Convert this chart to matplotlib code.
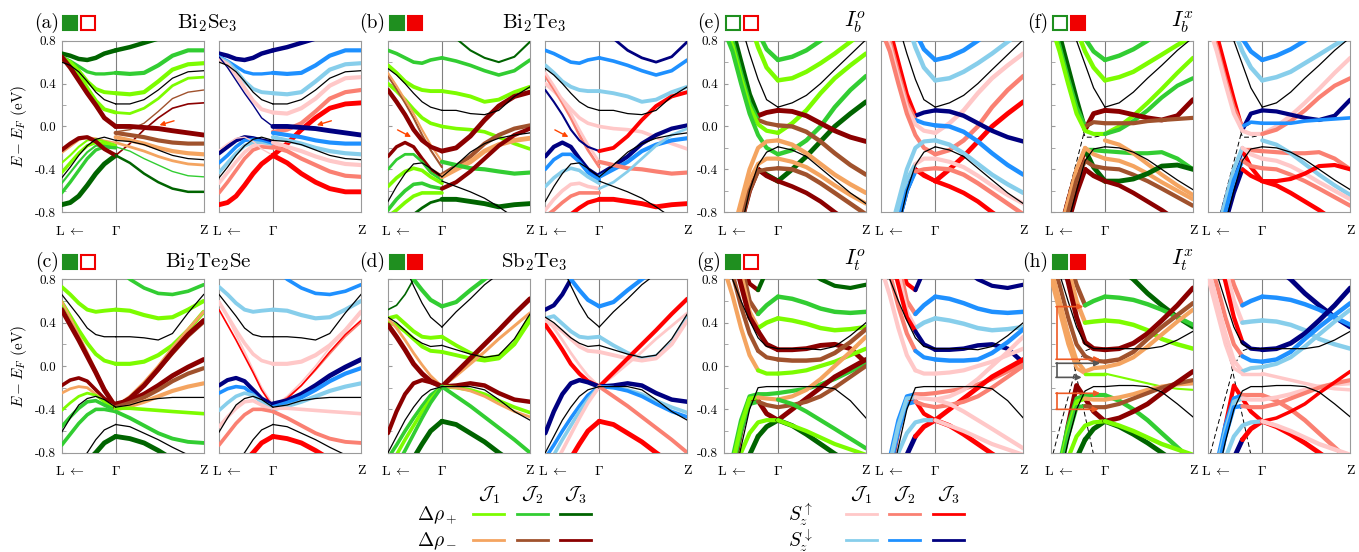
import matplotlib.pyplot as plt
from matplotlib.lines import Line2D
from matplotlib.patches import Rectangle
from matplotlib.transforms import ScaledTranslation

plt.rcParams['mathtext.fontset'] = 'cm'
plt.rcParams['font.family'] = 'serif'
plt.rcParams['font.serif'] = ['cmr10', 'DejaVu Serif']
plt.rcParams['axes.unicode_minus'] = False
plt.rcParams['axes.formatter.use_mathtext'] = True

# k-path: L <- Gamma -> Z
K_L = [0.0, 0.06, 0.12, 0.18, 0.24, 0.30, 0.38]
K_Z = [0.38, 0.48, 0.58, 0.68, 0.78, 0.89, 1.0]
GAMMA = 0.38
SPLIT = 4  # index on K_L where the far-L colour of a band may change

COLORS = {
    'p1': '#7CFC00', 'p2': '#32CD32', 'p3': '#006400',   # drho+ J1..J3
    'm1': '#F4A460', 'm2': '#A0522D', 'm3': '#8B0000',   # drho- J1..J3
    'u1': '#FFC8C8', 'u2': '#FA8072', 'u3': '#FF0000',   # Sz up
    'd1': '#87CEEB', 'd2': '#1E90FF', 'd3': '#000080',   # Sz down
}
BK = ('k', 0.9, 'k', 0.9)
DS = ('kd', 0.7, 'kd', 0.7)

# ---------------- (a) Bi2Se3 ----------------
a_L = [
    [0.68, 0.66, 0.63, 0.62, 0.64, 0.68, 0.71],
    [0.65, 0.61, 0.56, 0.51, 0.49, 0.49, 0.50],
    [0.64, 0.60, 0.52, 0.42, 0.35, 0.32, 0.31],
    [0.63, 0.58, 0.48, 0.36, 0.24, 0.16, 0.13],
    [0.65, 0.55, 0.43, 0.31, 0.20, 0.08, 0.00],
    [-0.25, -0.19, -0.13, -0.10, -0.11, -0.13, -0.15],
    [-0.34, -0.27, -0.19, -0.13, -0.12, -0.14, -0.17],
    [-0.43, -0.34, -0.25, -0.18, -0.15, -0.16, -0.19],
    [-0.53, -0.43, -0.33, -0.24, -0.18, -0.18, -0.20],
    [-0.62, -0.52, -0.41, -0.30, -0.22, -0.19, -0.20],
    [-0.73, -0.71, -0.65, -0.55, -0.44, -0.35, -0.27],
    [-0.22, -0.16, -0.11, -0.10, -0.14, -0.21, -0.27],
    [0.60, 0.57, 0.51, 0.42, 0.32, 0.25, 0.21],
    [-0.48, -0.38, -0.27, -0.18, -0.12, -0.10, -0.13],
]
a_L_sty = [('p3', 3.2, 'd3', 3.2), ('p2', 2.4, 'd2', 2.4), ('p1', 2.8, 'd1', 2.8),
           ('p1', 2.8, 'u1', 2.8), ('m3', 3.4, 'd3', 1.0),
           ('m1', 1.2, 'd3', 3.0), ('p1', 1.5, 'd2', 2.6), ('p1', 2.4, 'd1', 2.6),
           ('p2', 1.5, 'u1', 2.6), ('p2', 2.4, 'u2', 2.6), ('p3', 3.5, 'u3', 3.5),
           ('m3', 3.0, 'u1', 1.0), BK, BK]
a_Z = [
    [0.71, 0.74, 0.78, 0.82, 0.86, 0.90, 0.92],
    [0.50, 0.49, 0.50, 0.57, 0.66, 0.71, 0.71],
    [0.31, 0.30, 0.32, 0.42, 0.53, 0.58, 0.59],
    [0.13, 0.12, 0.17, 0.26, 0.38, 0.45, 0.46],
    [-0.05, -0.03, 0.03, 0.14, 0.26, 0.32, 0.34],
    [-0.27, -0.16, -0.03, 0.08, 0.17, 0.21, 0.22],
    [0.00, 0.00, -0.01, -0.02, -0.04, -0.06, -0.08],
    [-0.06, -0.08, -0.10, -0.13, -0.15, -0.16, -0.16],
    [-0.10, -0.13, -0.16, -0.20, -0.23, -0.25, -0.26],
    [-0.15, -0.19, -0.23, -0.28, -0.32, -0.35, -0.36],
    [-0.19, -0.23, -0.30, -0.36, -0.42, -0.46, -0.47],
    [-0.27, -0.34, -0.44, -0.52, -0.58, -0.61, -0.61],
    [0.21, 0.21, 0.25, 0.34, 0.45, 0.51, 0.52],
    [-0.13, -0.14, -0.17, -0.22, -0.27, -0.30, -0.31],
]
a_Z_sty = [('p3', 3.2, 'd3', 3.2), ('p2', 3.0, 'd2', 3.0), ('p1', 3.0, 'd1', 3.0),
           ('p1', 2.0, 'u1', 3.0), ('m2', 1.0, 'u2', 3.0), ('m3', 1.2, 'u3', 3.5),
           ('m3', 3.5, 'd3', 3.5), ('m2', 3.0, 'd2', 3.0), ('m1', 3.0, 'd1', 3.0),
           ('m1', 2.0, 'u1', 3.0), ('p2', 1.0, 'u2', 3.0), ('p3', 1.8, 'u3', 3.5),
           BK, BK]

# ---------------- (b) Bi2Te3 ----------------
b_L = [
    [0.71, 0.68, 0.64, 0.60, 0.59, 0.62, 0.64],
    [0.57, 0.50, 0.42, 0.37, 0.34, 0.33, 0.33],
    [0.40, 0.33, 0.25, 0.16, 0.08, 0.03, 0.00],
    [0.47, 0.35, 0.22, 0.08, -0.08, -0.22, -0.38],
    [0.50, 0.38, 0.25, 0.12, -0.03, -0.17, -0.33],
    [0.34, 0.23, 0.11, -0.03, -0.13, -0.19, -0.23],
    [-0.28, -0.19, -0.15, -0.19, -0.30, -0.40, -0.47],
    [-0.40, -0.31, -0.26, -0.26, -0.33, -0.43, -0.50],
    [-0.56, -0.48, -0.42, -0.39, -0.41, -0.47, -0.53],
    [-0.78, -0.68, -0.60, -0.54, -0.53, -0.56, -0.58],
    [-0.84, -0.78, -0.71, -0.65, -0.62, -0.62, -0.62],
    [-0.95, -0.92, -0.88, -0.82, -0.76, -0.71, -0.68],
    [0.54, 0.48, 0.40, 0.31, 0.23, 0.18, 0.15],
    [-0.70, -0.56, -0.44, -0.35, -0.34, -0.39, -0.47],
]
b_L_sty = [('p2', 2.6, 'd2', 2.6), ('p1', 2.8, 'd1', 2.8), ('p1', 2.6, 'u1', 2.6),
           ('m2', 1.5, 'u2', 2.0), ('m1', 1.5, 'u1', 2.0), ('m3', 3.2, 'd3', 1.5),
           ('m3', 2.5, 'd3', 3.0), ('p2', 2.0, 'd2', 2.6), ('p1', 2.6, 'd1', 2.6),
           ('p2', 2.6, 'u1', 2.6), ('p1', 2.6, 'u2', 2.6), ('p3', 2.0, 'u3', 3.0),
           BK, BK]
b_Z = [
    [0.92, 0.82, 0.71, 0.64, 0.60, 0.65, 0.79],
    [0.64, 0.61, 0.57, 0.52, 0.48, 0.52, 0.62],
    [0.33, 0.31, 0.28, 0.23, 0.25, 0.32, 0.37],
    [0.00, -0.02, -0.03, -0.05, -0.10, -0.16, -0.21],
    [-0.23, -0.20, -0.09, 0.06, 0.19, 0.28, 0.32],
    [-0.45, -0.37, -0.28, -0.16, -0.08, -0.02, 0.01],
    [-0.47, -0.40, -0.33, -0.23, -0.17, -0.13, -0.11],
    [-0.33, -0.36, -0.39, -0.40, -0.42, -0.44, -0.43],
    [-0.58, -0.52, -0.42, -0.30, -0.18, -0.08, -0.02],
    [-0.68, -0.68, -0.70, -0.72, -0.75, -0.73, -0.72],
    [0.15, 0.15, 0.12, 0.11, 0.15, 0.28, 0.37],
    [-0.47, -0.36, -0.24, -0.16, -0.11, -0.08, -0.06],
    [-0.51, -0.56, -0.61, -0.67, -0.75, -0.85, -0.95],
]
b_Z_sty = [('p3', 1.5, 'd3', 2.0), ('p2', 2.6, 'd2', 2.6), ('p1', 2.8, 'd1', 2.8),
           ('p1', 2.6, 'u1', 2.6), ('m3', 3.5, 'u3', 2.8), ('m2', 3.0, 'd3', 3.0),
           ('m1', 3.5, 'd2', 3.0), ('p2', 3.0, 'u2', 3.0), ('m3', 3.0, 'd1', 2.0),
           ('p3', 3.5, 'u3', 3.5), BK, BK, BK]

# ---------------- (c) Bi2Te2Se ----------------
c_L = [
    [0.73, 0.66, 0.58, 0.52, 0.50, 0.51, 0.52],
    [0.59, 0.46, 0.33, 0.21, 0.11, 0.05, 0.02],
    [0.60, 0.45, 0.29, 0.13, -0.04, -0.20, -0.36],
    [0.52, 0.38, 0.24, 0.09, -0.06, -0.22, -0.38],
    [-0.18, -0.13, -0.11, -0.14, -0.22, -0.30, -0.36],
    [-0.25, -0.21, -0.19, -0.20, -0.26, -0.33, -0.38],
    [-0.41, -0.34, -0.28, -0.25, -0.27, -0.33, -0.40],
    [-0.56, -0.47, -0.39, -0.33, -0.32, -0.36, -0.41],
    [-0.73, -0.63, -0.53, -0.45, -0.40, -0.40, -0.42],
    [-1.05, -1.00, -0.95, -0.88, -0.80, -0.71, -0.65],
    [0.66, 0.56, 0.46, 0.35, 0.29, 0.27, 0.27],
    [-0.61, -0.48, -0.36, -0.30, -0.28, -0.31, -0.38],
    [-1.05, -0.98, -0.90, -0.80, -0.68, -0.59, -0.54],
]
c_L_sty = [('p1', 2.8, 'd1', 2.8), ('p1', 2.8, 'u1', 2.6), ('m1', 1.5, 'u1', 1.5),
           ('m3', 3.5, 'u3', 1.2), ('m3', 2.6, 'd3', 3.0), ('m1', 2.0, 'd2', 2.6),
           ('p1', 2.0, 'd1', 2.6), ('p2', 2.6, 'u1', 2.6), ('p2', 2.6, 'u2', 2.6),
           ('p3', 3.5, 'u3', 3.5), BK, BK, BK]
c_Z = [
    [0.92, 0.80, 0.72, 0.67, 0.66, 0.69, 0.75],
    [0.52, 0.51, 0.47, 0.44, 0.45, 0.52, 0.60],
    [0.02, 0.02, 0.04, 0.10, 0.19, 0.33, 0.50],
    [-0.37, -0.28, -0.15, 0.00, 0.17, 0.34, 0.50],
    [-0.37, -0.29, -0.18, -0.04, 0.11, 0.27, 0.40],
    [-0.38, -0.30, -0.18, -0.03, 0.13, 0.29, 0.42],
    [-0.35, -0.32, -0.26, -0.18, -0.09, -0.01, 0.06],
    [-0.38, -0.34, -0.29, -0.22, -0.14, -0.07, -0.02],
    [-0.40, -0.37, -0.33, -0.28, -0.23, -0.19, -0.16],
    [-0.39, -0.39, -0.40, -0.41, -0.42, -0.43, -0.44],
    [-0.42, -0.48, -0.55, -0.62, -0.67, -0.70, -0.71],
    [-0.65, -0.67, -0.71, -0.78, -0.86, -0.95, -1.00],
    [0.27, 0.27, 0.26, 0.24, 0.30, 0.49, 0.66],
    [-0.38, -0.36, -0.32, -0.30, -0.29, -0.29, -0.29],
    [-0.54, -0.56, -0.62, -0.68, -0.75, -0.82, -0.90],
]
c_Z_sty = [('p2', 2.6, 'd2', 2.6), ('p1', 3.0, 'd1', 3.0), ('p1', 3.0, 'u1', 3.0),
           ('m1', 2.0, 'u1', 1.2), ('m2', 2.0, 'u2', 1.0), ('m3', 3.5, 'u3', 1.2),
           ('m3', 3.5, 'd3', 3.5), ('m2', 3.0, 'd2', 3.0), ('m1', 3.0, 'd1', 3.0),
           ('p1', 2.6, 'u1', 2.6), ('p2', 2.8, 'u2', 2.8), ('p3', 3.5, 'u3', 3.5),
           BK, BK, BK]

# ---------------- (d) Sb2Te3 ----------------
d_L = [
    [0.52, 0.56, 0.66, 0.80, 0.95, 1.10, 1.20],
    [1.10, 1.02, 0.92, 0.80, 0.70, 0.61, 0.55],
    [0.44, 0.46, 0.39, 0.32, 0.27, 0.26, 0.27],
    [0.40, 0.38, 0.32, 0.25, 0.18, 0.14, 0.13],
    [0.44, 0.35, 0.24, 0.12, 0.01, -0.09, -0.19],
    [0.38, 0.27, 0.15, 0.02, -0.07, -0.14, -0.19],
    [-0.62, -0.42, -0.26, -0.16, -0.13, -0.15, -0.19],
    [-0.85, -0.73, -0.60, -0.48, -0.37, -0.27, -0.19],
    [-0.95, -0.82, -0.68, -0.55, -0.42, -0.31, -0.19],
    [-1.05, -0.92, -0.78, -0.63, -0.48, -0.34, -0.19],
    [-1.20, -1.10, -0.98, -0.85, -0.72, -0.60, -0.51],
    [1.30, 1.10, 0.92, 0.74, 0.58, 0.45, 0.36],
    [0.45, 0.40, 0.33, 0.26, 0.21, 0.18, 0.19],
    [-0.80, -0.65, -0.50, -0.38, -0.28, -0.22, -0.19],
]
d_L_sty = [('p3', 1.2, 'd3', 3.0), ('p2', 3.0, 'd2', 3.0), ('p1', 2.8, 'd1', 2.8),
           ('p1', 2.8, 'u1', 2.8), ('m1', 2.0, 'u1', 2.0), ('m3', 3.5, 'u3', 3.0),
           ('m3', 3.0, 'd3', 3.2), ('p2', 2.6, 'd2', 2.6), ('p1', 2.6, 'd1', 2.6),
           ('p2', 2.6, 'u1', 2.6), ('p3', 3.5, 'u3', 3.5), BK, BK, BK]
d_Z = [
    [0.55, 0.59, 0.70, 0.80, 0.90, 1.00, 1.10],
    [0.27, 0.19, 0.12, 0.07, 0.09, 0.21, 0.46],
    [0.13, 0.10, 0.07, 0.05, 0.07, 0.20, 0.42],
    [-0.19, -0.09, 0.02, 0.13, 0.25, 0.37, 0.49],
    [-0.19, -0.06, 0.07, 0.20, 0.33, 0.48, 0.62],
    [-0.19, -0.18, -0.16, -0.18, -0.25, -0.31, -0.33],
    [-0.19, -0.20, -0.22, -0.26, -0.32, -0.38, -0.43],
    [-0.19, -0.20, -0.23, -0.28, -0.35, -0.42, -0.47],
    [-0.19, -0.28, -0.37, -0.47, -0.57, -0.68, -0.80],
    [-0.51, -0.54, -0.62, -0.70, -0.80, -0.90, -1.00],
    [0.36, 0.50, 0.62, 0.75, 0.85, 0.95, 1.05],
    [0.19, 0.15, 0.11, 0.08, 0.10, 0.25, 0.48],
    [-0.19, -0.19, -0.19, -0.22, -0.31, -0.42, -0.50],
]
d_Z_sty = [('p2', 3.0, 'd2', 3.0), ('p1', 2.8, 'd1', 2.8), ('p1', 2.8, 'u1', 2.8),
           ('m1', 2.2, 'u1', 2.0), ('m3', 3.5, 'u3', 3.0), ('m3', 3.2, 'd3', 3.2),
           ('p1', 2.6, 'd1', 2.6), ('m1', 2.0, 'd2', 2.6), ('p2', 2.8, 'u2', 2.8),
           ('p3', 3.5, 'u3', 3.5), BK, BK, BK]

# ---------------- (e) I_b^o ----------------
e_L = [
    [1.80, 1.60, 1.35, 1.10, 0.88, 0.72, 0.62],
    [1.70, 1.50, 1.20, 0.98, 0.74, 0.55, 0.43],
    [1.10, 0.90, 0.60, 0.30, 0.10, 0.13, 0.15],
    [1.00, 0.80, 0.50, 0.22, 0.06, 0.03, 0.01],
    [0.95, 0.75, 0.45, 0.18, 0.02, -0.04, -0.06],
    [0.90, 0.70, 0.40, 0.12, -0.08, -0.20, -0.26],
    [-1.50, -1.20, -0.90, -0.60, -0.40, -0.45, -0.51],
    [-1.40, -1.10, -0.80, -0.55, -0.40, -0.46, -0.51],
    [-1.30, -1.00, -0.70, -0.40, -0.20, -0.14, -0.13],
    [-1.40, -1.10, -0.80, -0.50, -0.35, -0.30, -0.30],
    [-1.50, -1.20, -0.90, -0.60, -0.42, -0.40, -0.39],
    [1.50, 1.20, 0.95, 0.68, 0.44, 0.25, 0.18],
    [-1.60, -1.30, -0.95, -0.60, -0.36, -0.24, -0.19],
]
e_L_sty = [('p2', 3.2, 'd2', 3.2), ('p1', 3.2, 'd1', 3.2),
           ('m3', 3.5, 'd3', 3.0, 'p3', 'u3'), ('m2', 3.0, 'd2', 3.0, 'p2', 'u2'),
           ('p1', 3.0, 'u1', 3.0), ('p2', 3.0, 'u2', 3.0),
           ('p3', 3.5, 'u3', 3.0, 'm3', 'd3'), ('m3', 3.5, 'u3', 3.0, 'm3', 'd3'),
           ('m1', 3.0, 'd1', 3.0), ('m1', 3.0, 'u1', 3.0, 'm1', 'd1'),
           ('m2', 3.0, 'u2', 3.0, 'm2', 'd2'), BK, BK]
e_Z = [
    [0.62, 0.65, 0.71, 0.80, 0.90, 1.00, 1.10],
    [0.43, 0.45, 0.51, 0.59, 0.68, 0.79, 0.90],
    [-0.06, 0.03, 0.15, 0.31, 0.45, 0.57, 0.68],
    [-0.26, -0.22, -0.13, 0.00, 0.18, 0.34, 0.47],
    [-0.51, -0.40, -0.28, -0.14, 0.00, 0.12, 0.23],
    [0.15, 0.14, 0.10, 0.03, -0.04, -0.10, -0.14],
    [0.01, 0.00, -0.05, -0.14, -0.25, -0.36, -0.45],
    [-0.13, -0.17, -0.25, -0.35, -0.45, -0.54, -0.62],
    [-0.30, -0.33, -0.38, -0.46, -0.55, -0.64, -0.72],
    [-0.39, -0.40, -0.45, -0.53, -0.62, -0.72, -0.82],
    [-0.51, -0.56, -0.62, -0.70, -0.80, -0.90, -1.00],
    [0.18, 0.22, 0.29, 0.40, 0.53, 0.67, 0.81],
    [-0.19, -0.22, -0.28, -0.39, -0.50, -0.62, -0.72],
]
e_Z_sty = [('p2', 3.2, 'd2', 3.2), ('p1', 3.2, 'd1', 3.2), ('p1', 3.2, 'u1', 3.2),
           ('p2', 3.2, 'u2', 3.2), ('p3', 3.5, 'u3', 3.5), ('m3', 3.5, 'd3', 3.2),
           ('m2', 3.2, 'd2', 3.2), ('m1', 3.2, 'd1', 3.2), ('m1', 3.0, 'u1', 3.0),
           ('m2', 3.2, 'u2', 3.2), ('m3', 3.2, 'u3', 3.2), BK, BK]

# ---------------- (f) I_b^x ----------------
f_L = [
    [1.15, 0.83, 0.50, 0.18, -0.10, -0.10, -0.08],
    [-1.24, -0.94, -0.63, -0.33, -0.02, 0.03, 0.03],
    [1.60, 1.40, 1.20, 1.00, 0.82, 0.70, 0.62],
    [1.50, 1.30, 1.10, 0.90, 0.70, 0.55, 0.43],
    [1.10, 0.85, 0.55, 0.25, -0.03, 0.12, 0.15],
    [1.00, 0.75, 0.45, 0.18, 0.00, 0.04, 0.03],
    [0.95, 0.70, 0.40, 0.12, -0.04, -0.07, -0.07],
    [-1.40, -1.10, -0.80, -0.50, -0.22, -0.22, -0.23],
    [-1.30, -1.00, -0.70, -0.42, -0.22, -0.38, -0.51],
    [-1.50, -1.20, -0.90, -0.62, -0.40, -0.46, -0.51],
    [-1.30, -1.00, -0.70, -0.40, -0.20, -0.26, -0.30],
    [-1.40, -1.10, -0.80, -0.50, -0.32, -0.37, -0.39],
    [1.50, 1.25, 1.00, 0.80, 0.58, 0.36, 0.18],
    [-1.50, -1.20, -0.90, -0.60, -0.32, -0.21, -0.19],
]
f_L_sty = [DS, DS, ('p2', 3.2, 'd2', 3.2), ('p1', 3.2, 'd1', 3.2),
           ('m3', 3.5, 'd3', 3.0, 'p3', 'u3'), ('m2', 3.0, 'd2', 2.6, 'p2', 'u2'),
           ('p1', 3.0, 'u1', 3.0), ('p2', 3.2, 'u2', 3.2, 'm1', 'd1'),
           ('p3', 3.5, 'u3', 3.0, 'm3', 'd3'), ('m3', 3.5, 'u3', 3.0, 'm3', 'd3'),
           ('m1', 3.0, 'u1', 3.0, 'm1', 'd1'), ('m2', 3.0, 'u2', 3.0, 'm2', 'd2'), BK, BK]
f_Z = [
    [0.62, 0.66, 0.72, 0.80, 0.90, 1.00, 1.10],
    [0.43, 0.46, 0.51, 0.59, 0.67, 0.76, 0.84],
    [-0.07, 0.00, 0.10, 0.22, 0.35, 0.50, 0.64],
    [-0.07, -0.03, 0.05, 0.15, 0.27, 0.38, 0.45],
    [0.15, 0.14, 0.11, 0.08, 0.06, 0.10, 0.25],
    [0.03, 0.03, 0.03, 0.05, 0.06, 0.07, 0.08],
    [-0.23, -0.24, -0.25, -0.25, -0.24, -0.30, -0.40],
    [-0.13, -0.17, -0.25, -0.35, -0.45, -0.55, -0.64],
    [-0.30, -0.32, -0.37, -0.44, -0.52, -0.60, -0.68],
    [-0.39, -0.40, -0.45, -0.51, -0.58, -0.66, -0.74],
    [-0.51, -0.51, -0.49, -0.44, -0.37, -0.36, -0.40],
    [-0.51, -0.55, -0.62, -0.70, -0.78, -0.88, -0.98],
    [0.18, 0.22, 0.32, 0.45, 0.57, 0.71, 0.83],
    [-0.19, -0.20, -0.24, -0.31, -0.40, -0.50, -0.59],
]
f_Z_sty = [('p2', 3.2, 'd2', 3.2), ('p1', 3.2, 'd1', 3.2), ('p1', 3.0, 'u1', 3.0),
           ('p2', 3.0, 'u2', 3.0), ('m3', 3.5, 'd3', 3.0), ('m2', 3.0, 'd2', 2.6),
           ('p2', 3.0, 'u2', 3.0), ('m1', 3.0, 'd1', 3.0), ('m1', 3.0, 'u1', 3.0),
           ('m2', 3.0, 'u2', 3.0), ('p3', 3.5, 'u3', 3.0), ('m3', 3.2, 'u3', 3.2),
           BK, BK]

# ---------------- (g) I_t^o ----------------
g_L = [
    [1.60, 1.30, 1.00, 0.76, 0.70, 0.88, 1.10],
    [1.60, 1.30, 0.95, 0.60, 0.48, 0.56, 0.64],
    [1.50, 1.20, 0.85, 0.50, 0.35, 0.40, 0.44],
    [1.30, 1.05, 0.75, 0.45, 0.32, 0.20, 0.15],
    [1.10, 0.85, 0.55, 0.30, 0.14, 0.08, 0.06],
    [0.90, 0.65, 0.35, 0.10, -0.04, -0.07, -0.07],
    [-1.40, -1.00, -0.60, -0.30, -0.32, -0.44, -0.50],
    [-1.30, -0.95, -0.60, -0.35, -0.33, -0.36, -0.38],
    [-1.20, -0.85, -0.50, -0.28, -0.26, -0.26, -0.25],
    [-1.25, -0.90, -0.55, -0.30, -0.29, -0.30, -0.31],
    [-1.50, -1.30, -1.05, -0.82, -0.65, -0.56, -0.50],
    [-1.40, -1.00, -0.80, -0.62, -0.52, -0.50, -0.50],
    [1.10, 0.80, 0.60, 0.42, 0.26, 0.18, 0.16],
    [-1.50, -1.10, -0.75, -0.40, -0.20, -0.19, -0.19],
]
g_L_sty = [('p3', 3.0, 'd3', 3.0, 'm3', 'u3'), ('p2', 3.2, 'd2', 3.2, 'm2', 'u2'),
           ('p1', 3.2, 'd1', 3.2, 'm1', 'u1'), ('m3', 3.5, 'd3', 3.0, 'm3', 'u3'),
           ('m2', 3.0, 'd2', 3.0, 'm2', 'u2'), ('p1', 3.0, 'u1', 3.0, 'm1', 'u1'),
           ('m3', 3.5, 'u3', 3.0), ('m2', 3.0, 'u2', 3.0, 'p2', 'd2'),
           ('p2', 3.0, 'u2', 3.0, 'p2', 'd2'), ('m1', 3.0, 'u1', 3.0, 'p1', 'd1'),
           ('p3', 3.5, 'u3', 3.5, 'p3', 'd3'), ('p1', 3.0, 'd1', 3.0), BK, BK]
g_Z = [
    [1.10, 1.00, 0.90, 0.80, 0.74, 0.72, 0.75],
    [0.64, 0.62, 0.58, 0.53, 0.50, 0.49, 0.50],
    [0.44, 0.42, 0.39, 0.35, 0.33, 0.34, 0.36],
    [0.15, 0.15, 0.16, 0.19, 0.20, 0.16, 0.03],
    [0.06, 0.05, 0.05, 0.06, 0.12, 0.22, 0.34],
    [-0.07, -0.06, -0.04, 0.00, 0.04, 0.10, 0.16],
    [-0.25, -0.23, -0.21, -0.17, -0.12, -0.05, 0.02],
    [-0.31, -0.28, -0.22, -0.12, 0.00, 0.13, 0.27],
    [-0.50, -0.40, -0.30, -0.20, -0.10, -0.02, 0.06],
    [-0.38, -0.36, -0.33, -0.28, -0.20, -0.10, 0.00],
    [-0.31, -0.35, -0.42, -0.50, -0.58, -0.67, -0.76],
    [-0.50, -0.55, -0.63, -0.72, -0.81, -0.90, -1.00],
    [-0.50, -0.55, -0.60, -0.66, -0.72, -0.77, -0.82],
    [0.16, 0.16, 0.16, 0.15, 0.18, 0.28, 0.40],
    [-0.19, -0.19, -0.19, -0.19, -0.21, -0.32, -0.48],
]
g_Z_sty = [('p3', 3.0, 'd3', 3.0), ('p2', 3.2, 'd2', 3.2), ('p1', 3.2, 'd1', 3.2),
           ('m3', 3.5, 'd3', 3.2), ('m2', 3.2, 'd2', 3.2), ('p1', 3.0, 'u1', 3.0),
           ('p2', 3.0, 'u2', 3.0), ('m1', 3.0, 'u1', 3.0), ('m3', 3.5, 'u3', 3.5),
           ('m2', 3.0, 'u2', 3.0), ('p2', 3.0, 'u1', 3.0), ('p3', 3.5, 'u3', 3.5),
           ('p1', 3.0, 'u1', 3.0), BK, BK]

# ---------------- (h) I_t^x ----------------
h_L = [
    [0.98, 0.62, 0.26, -0.10, -0.46, -0.82, -1.20],
    [-0.88, -0.58, -0.29, 0.00, 0.14, 0.17, 0.16],
    [1.60, 1.30, 1.00, 0.75, 0.56, 0.60, 0.64],
    [1.50, 1.20, 0.90, 0.60, 0.40, 0.41, 0.42],
    [1.30, 1.05, 0.78, 0.45, 0.22, 0.16, 0.15],
    [1.00, 0.75, 0.45, 0.20, 0.09, 0.05, 0.04],
    [0.90, 0.60, 0.30, 0.05, -0.05, -0.02, -0.01],
    [0.80, 0.50, 0.20, -0.02, -0.07, -0.07, -0.07],
    [-1.40, -1.00, -0.55, -0.18, -0.30, -0.42, -0.51],
    [-1.20, -0.90, -0.55, -0.30, -0.27, -0.27, -0.27],
    [-1.25, -0.95, -0.60, -0.33, -0.30, -0.31, -0.31],
    [-1.30, -1.00, -0.65, -0.38, -0.37, -0.38, -0.38],
    [-1.50, -1.30, -1.05, -0.85, -0.68, -0.58, -0.51],
    [-1.40, -1.10, -0.85, -0.65, -0.55, -0.52, -0.51],
    [1.10, 0.85, 0.60, 0.36, 0.20, 0.16, 0.16],
    [-1.40, -1.05, -0.70, -0.40, -0.23, -0.19, -0.19],
]
h_L_sty = [DS, DS, ('p2', 3.2, 'd2', 3.2, 'm2', 'u2'), ('p1', 3.2, 'd1', 3.2, 'm1', 'u1'),
           ('m3', 3.5, 'd3', 3.0, 'm3', 'u3'), ('m2', 3.0, 'd2', 3.0, 'm2', 'u2'),
           ('m1', 3.0, 'd1', 3.0, 'm1', 'u1'), ('p1', 2.5, 'u1', 2.5, 'm1', 'u1'),
           ('m3', 3.5, 'u3', 3.0), ('p2', 3.0, 'u2', 3.0, 'p2', 'd2'),
           ('m1', 3.0, 'u1', 3.0, 'p1', 'd1'), ('m2', 3.0, 'u2', 3.0, 'p2', 'd2'),
           ('p3', 3.5, 'u3', 3.5, 'p3', 'd3'), ('p1', 3.0, 'd1', 3.0), BK, BK]
h_Z = [
    [1.00, 0.90, 0.80, 0.67, 0.56, 0.45, 0.36],
    [0.64, 0.63, 0.61, 0.57, 0.52, 0.45, 0.38],
    [0.42, 0.41, 0.38, 0.33, 0.25, 0.20, 0.16],
    [0.15, 0.16, 0.21, 0.30, 0.42, 0.56, 0.72],
    [0.04, 0.06, 0.13, 0.25, 0.36, 0.47, 0.58],
    [-0.01, 0.02, 0.08, 0.18, 0.29, 0.41, 0.52],
    [-0.07, -0.10, -0.13, -0.16, -0.19, -0.21, -0.22],
    [-0.27, -0.32, -0.40, -0.50, -0.62, -0.75, -0.88],
    [-0.31, -0.29, -0.26, -0.22, -0.19, -0.17, -0.16],
    [-0.38, -0.35, -0.30, -0.25, -0.20, -0.16, -0.13],
    [-0.51, -0.48, -0.42, -0.35, -0.25, -0.15, -0.05],
    [-0.51, -0.56, -0.63, -0.71, -0.80, -0.90, -1.00],
    [-0.51, -0.55, -0.60, -0.66, -0.72, -0.77, -0.82],
    [0.16, 0.16, 0.16, 0.16, 0.18, 0.24, 0.32],
    [-0.19, -0.18, -0.18, -0.19, -0.24, -0.35, -0.47],
]
h_Z_sty = [('p3', 3.5, 'd3', 3.5), ('p2', 3.2, 'd2', 3.2), ('p1', 3.2, 'd1', 3.2),
           ('m3', 3.5, 'd3', 3.5), ('m2', 3.2, 'd2', 3.2), ('m1', 3.0, 'd1', 3.0),
           ('p1', 1.5, 'u1', 2.5), ('p2', 3.2, 'u2', 3.2), ('m1', 3.0, 'u1', 3.0),
           ('m2', 3.0, 'u2', 3.0), ('m3', 3.5, 'u3', 2.5), ('p3', 3.5, 'u3', 3.5),
           ('p1', 3.2, 'u1', 3.2), BK, BK]

# group: label, title, green filled, red filled, left-axes px x, top px y, axes height px, y labels
GROUPS = [
    ('(a)', r'$\mathrm{Bi_2Se_3}$', True, False, 61.7, 40.7, 171.5, True, a_L, a_L_sty, a_Z, a_Z_sty),
    ('(b)', r'$\mathrm{Bi_2Te_3}$', True, True, 388.0, 40.7, 171.5, False, b_L, b_L_sty, b_Z, b_Z_sty),
    ('(e)', r'$I_b^o$', False, False, 724.0, 40.7, 171.5, True, e_L, e_L_sty, e_Z, e_Z_sty),
    ('(f)', r'$I_b^x$', False, True, 1051.0, 40.7, 171.5, False, f_L, f_L_sty, f_Z, f_Z_sty),
    ('(c)', r'$\mathrm{Bi_2Te_2Se}$', True, False, 61.7, 279.3, 173.4, True, c_L, c_L_sty, c_Z, c_Z_sty),
    ('(d)', r'$\mathrm{Sb_2Te_3}$', True, True, 388.0, 279.3, 173.4, False, d_L, d_L_sty, d_Z, d_Z_sty),
    ('(g)', r'$I_t^o$', True, False, 724.0, 279.3, 173.4, True, g_L, g_L_sty, g_Z, g_Z_sty),
    ('(h)', r'$I_t^x$', True, True, 1051.0, 279.3, 173.4, False, h_L, h_L_sty, h_Z, h_Z_sty),
]

W, H = 1359, 552
AX_W = 142.0
GAP = 157.3  # px from left axes to right axes

fig = plt.figure(figsize=(W / 100, H / 100), dpi=100)


def fx(px):
    return px / W


def fy(py):
    return 1 - py / H


def plot_piece(ax, kk, E, key, lw):
    if key == 'k':
        ax.plot(kk, E, color='k', lw=lw, zorder=6)
    elif key == 'kd':
        ax.plot(kk, E, color='k', lw=lw, ls=(0, (5, 3)), zorder=2)
    else:
        ax.plot(kk, E, color=COLORS[key], lw=lw, solid_capstyle='round',
                solid_joinstyle='round', zorder=3)


def draw_bands(ax, segs, stys, kk, side):
    for E, s in zip(segs, stys):
        key, lw = (s[0], s[1]) if side == 0 else (s[2], s[3])
        if len(s) > 4:
            far = s[4 + side]
            plot_piece(ax, kk[:SPLIT + 1], E[:SPLIT + 1], far, lw)
            plot_piece(ax, kk[SPLIT:], E[SPLIT:], key, lw)
        else:
            plot_piece(ax, kk, E, key, lw)


GREEN_SQ = '#1F8F1F'
RED_SQ = '#F00000'
axes_left = {}
axes_right = {}

for lab, title, gfill, rfill, x0, y0, hpx, ylabs, segL, styL, segZ, styZ in GROUPS:
    for side in (0, 1):
        left = x0 + side * GAP
        ax = fig.add_axes([fx(left), fy(y0 + hpx), AX_W / W, hpx / H])
        draw_bands(ax, segL, styL, K_L, side)
        draw_bands(ax, segZ, styZ, K_Z, side)
        ax.axvline(GAMMA, color='#808080', lw=0.8, zorder=1)
        ax.set_xlim(0, 1)
        ax.set_ylim(-0.8, 0.8)
        for sp in ax.spines.values():
            sp.set_color('#9a9a9a')
            sp.set_linewidth(0.8)
        ax.set_xticks([0, GAMMA, 1])
        ax.set_xticklabels([r'L$\;\leftarrow$', r'$\Gamma$', 'Z'], fontsize=10)
        ax.tick_params(axis='x', length=0, pad=9)
        t0 = ax.get_xticklabels()[0]
        t0.set_horizontalalignment('left')
        t0.set_transform(t0.get_transform() + ScaledTranslation(-7 / 100, 0, fig.dpi_scale_trans))
        if side == 0:
            ax.set_yticks([-0.8, -0.4, 0.0, 0.4, 0.8])
            ax.set_yticks([-0.6, -0.2, 0.2, 0.6], minor=True)
            ax.tick_params(axis='y', which='both', direction='in', length=3,
                           color='#9a9a9a', labelsize=9.5, pad=4)
            if ylabs:
                ax.set_yticklabels(['-0.8', '-0.4', '0.0', '0.4', '0.8'])
            else:
                ax.set_yticklabels([])
            axes_left[lab] = ax
        else:
            ax.set_yticks([])
            axes_right[lab] = ax

    # header: panel label, squares, title
    ty = y0 - 17.5
    fig.text(fx(x0 - 3), fy(ty), lab, fontsize=14, ha='right', va='center')
    sq_h = 14
    fig.add_artist(Rectangle((fx(x0 + 1.5), fy(ty + sq_h / 2)), 14 / W, sq_h / H,
                             transform=fig.transFigure, lw=1.5, ec=GREEN_SQ,
                             fc=GREEN_SQ if gfill else 'white'))
    fig.add_artist(Rectangle((fx(x0 + 19.5), fy(ty + sq_h / 2)), 14 / W, sq_h / H,
                             transform=fig.transFigure, lw=1.5, ec=RED_SQ,
                             fc=RED_SQ if rfill else 'white'))
    if title.startswith(r'$I'):
        fig.text(fx(x0 + AX_W), fy(ty - 1), title, fontsize=16, ha='right', va='center')
    else:
        fig.text(fx(x0 + 146), fy(ty), title, fontsize=15, ha='center', va='center')

# y-axis labels
for yc in (126, 366):
    fig.text(fx(19), fy(yc), r'$E - E_F$ (eV)', rotation=90, fontsize=11,
             ha='center', va='center')

# orange arrows marking crossings in (a) and (b)
ARROW = '#FF4500'
for lab, tail, head in [('(a)', (0.81, 0.06), (0.67, 0.005)),
                        ('(b)', (0.05, -0.02), (0.18, -0.11))]:
    for axx in (axes_left[lab], axes_right[lab]):
        axx.annotate('', xy=head, xytext=tail, zorder=9,
                     arrowprops=dict(arrowstyle='-|>', color=ARROW, lw=1.0, mutation_scale=7))

# brackets in (h)
axh = axes_left['(h)']
BR_OR = '#EE5A24'
BR_GR = '#555555'
for col, e_top, e_bot, k_top, k_bot in [(BR_OR, 0.548, 0.062, 0.228, 0.346),
                                        (BR_GR, 0.025, -0.105, 0.346, 0.216),
                                        (BR_OR, -0.252, -0.40, 0.346, 0.335)]:
    axh.plot([0.04, 0.04], [e_top, e_bot], color=col, lw=1.2, zorder=8)
    for ee, kk in ((e_top, k_top), (e_bot, k_bot)):
        axh.annotate('', xy=(kk, ee), xytext=(0.035, ee), zorder=8,
                     arrowprops=dict(arrowstyle='-|>', color=col, lw=1.2,
                                     mutation_scale=8, shrinkA=0, shrinkB=0))

# legends at the bottom
LEG1 = [('p1', 'p2', 'p3'), ('m1', 'm2', 'm3')]
LEG2 = [('u1', 'u2', 'u3'), ('d1', 'd2', 'd3')]
for x_lab, xs_head, rows, names in [
        (457, (488.5, 532, 575.5), LEG1, (r'$\Delta\rho_+$', r'$\Delta\rho_-$')),
        (813, (861, 904.5, 948), LEG2, (r'$S_z^{\uparrow}$', r'$S_z^{\downarrow}$'))]:
    for j, xh in enumerate(xs_head):
        fig.text(fx(xh), fy(495), r'$\mathcal{J}_%d$' % (j + 1), fontsize=14,
                 ha='center', va='center')
    for r, (row, name) in enumerate(zip(rows, names)):
        yy = 514 + 26 * r
        fig.text(fx(x_lab), fy(yy + 1), name, fontsize=14, ha='right', va='center')
        for j, xh in enumerate(xs_head):
            fig.add_artist(Line2D([fx(xh - 15.5), fx(xh + 15.5)], [fy(yy), fy(yy)],
                                  transform=fig.transFigure, color=COLORS[row[j]], lw=2.0))

fig.savefig('out.png', dpi=100)
